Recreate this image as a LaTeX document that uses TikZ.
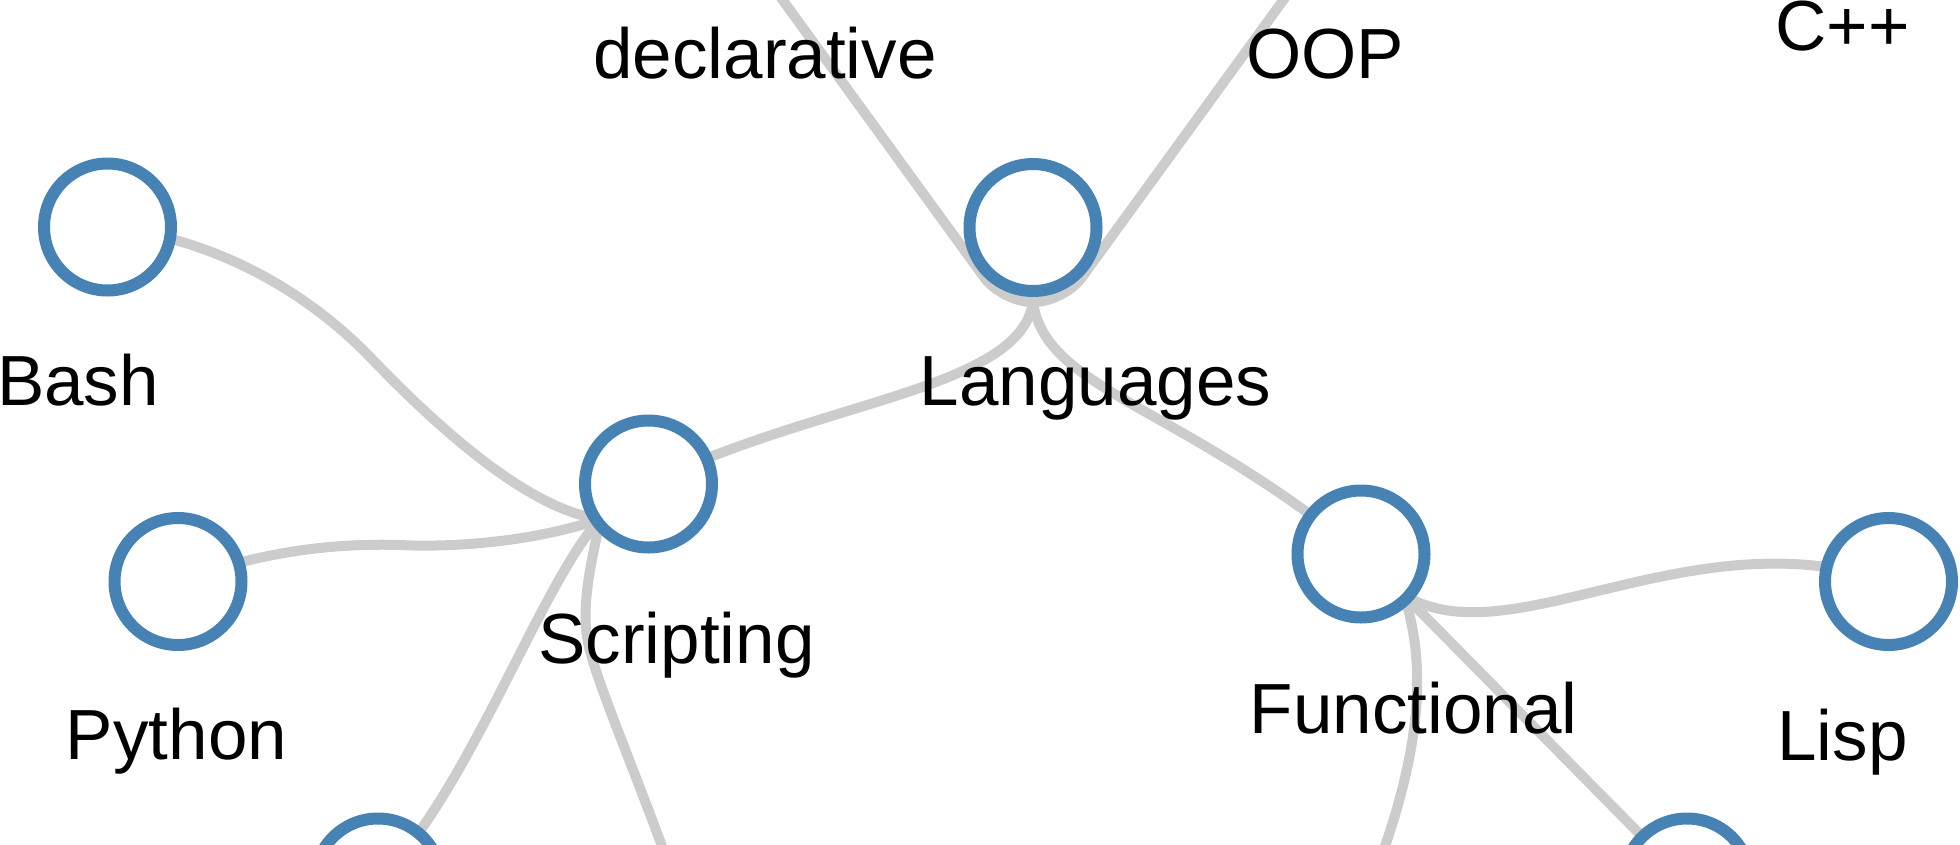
\documentclass[tikz,border=0pt]{standalone}
\usepackage{fontspec}
\setmainfont{Liberation Sans}
\usetikzlibrary{backgrounds}
\definecolor{nodeblue}{HTML}{4682B4}
\definecolor{linkgray}{HTML}{CCCCCC}
\begin{document}
\begin{tikzpicture}[x=1pt,y=-1pt,
  vertex/.style={circle,draw=nodeblue,line width=12pt,fill=white,minimum size=127pt,inner sep=0pt},
  link/.style={draw=linkgray,line width=10pt},
  lab/.style={font=\fontsize{71}{85}\selectfont,anchor=base,inner sep=0pt,text=black}]
\useasboundingbox (0,0) rectangle (1960,844);
\clip (0,0) rectangle (1960,844);
% nodes
\node[vertex] (languages) at (1033,227.5) {};
\node[vertex] (bash) at (107.5,227) {};
\node[vertex] (scripting) at (648.5,484) {};
\node[vertex] (python) at (178,581.5) {};
\node[vertex] (functional) at (1361,554) {};
\node[vertex] (lisp) at (1888.5,581.5) {};
\node[vertex] (botleft) at (378,882) {};
\node[vertex] (botright) at (1687,882) {};
% junctions and off-canvas ends
\coordinate (lj) at (1033,302);
\coordinate (sj) at (600,519);
\coordinate (fj) at (1404,595);
\coordinate (declend) at (710,-100);
\coordinate (oopend) at (1356,-100);
\coordinate (sbelow) at (683,905);
\coordinate (fbelow) at (1363,905);
% labels
\node[lab] (lbash) at (78,405) {Bash};
\node[lab] (lpython) at (176.5,759) {Python};
\node[lab] (lscripting) at (676.5,663) {Scripting};
\node[lab] (llanguages) at (1095.5,405) {Languages};
\node[lab] (lfunctional) at (1413.5,733) {Functional};
\node[lab] (llisp) at (1842.5,760) {Lisp};
\node[lab] (ldecl) at (765,78) {declarative};
\node[lab] (loop) at (1325,78) {OOP};
\node[lab] (lcpp) at (1842.5,50) {C++};
% links
\begin{pgfonlayer}{background}
\draw[link] (bash.center) .. controls (230,240) and (320,305) .. (370,357)
            .. controls (440,430) and (530,510) .. (sj);
\draw[link] (python.center) .. controls (260,552) and (330,543) .. (400,545)
            .. controls (460,548) and (540,540) .. (sj);
\draw[link] (sj) .. controls (540,585) and (470,790) .. (botleft.center);
\draw[link] (sj) .. controls (595,549) and (581,597) .. (587,637)
            .. controls (593,677) and (640,780) .. (sbelow);
\draw[link] (lj) .. controls (1020,390) and (820,400) .. (scripting.center);
\draw[link] (lj) .. controls (1045,390) and (1180,405) .. (functional.center);
\draw[link,rounded corners=30pt] (lj) -- (1002,302) -- (declend);
\draw[link,rounded corners=30pt] (lj) -- (1064,302) -- (oopend);
\draw[link] (fj) .. controls (1510,660) and (1690,515) .. (lisp.center);
\draw[link] (fj) .. controls (1428,670) and (1422,760) .. (fbelow);
\draw[link] (fj) -- (botright.center);
\end{pgfonlayer}
\end{tikzpicture}
\end{document}
